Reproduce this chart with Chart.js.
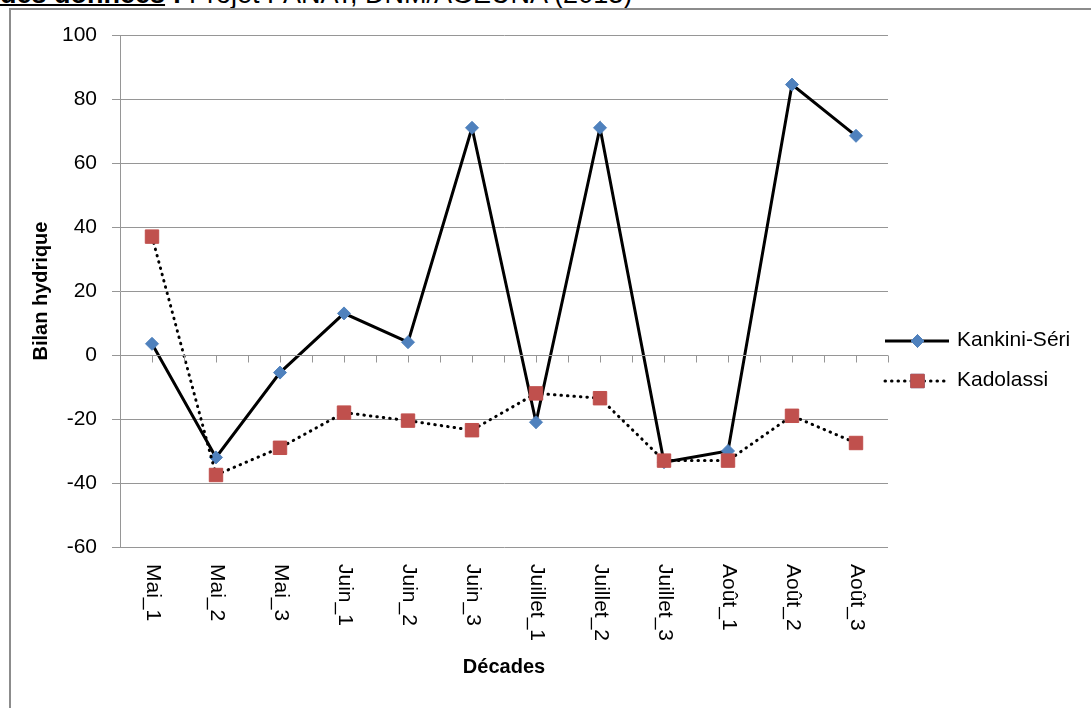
<!DOCTYPE html>
<html lang="fr">
<head>
<meta charset="utf-8">
<title>Bilan hydrique par décade</title>
<script src="https://cdn.jsdelivr.net/npm/chart.js@4/dist/chart.umd.min.js"></script>
<style>
  html, body { margin: 0; padding: 0; background: #fff; }
  body { width: 1091px; height: 708px; position: relative; overflow: hidden; }
  #source {
    position: absolute; left: 0; top: -21px; white-space: nowrap;
    font: 27px/30px "Liberation Sans", Arial, sans-serif; color: #000;
  }
  #source .b { font-weight: bold; text-decoration: underline; text-underline-offset: 1px; }
  #frame {
    position: absolute; left: 9px; top: 8px; width: 1100px; height: 720px;
    border-left: 2px solid #8c8c8c; border-top: 2px solid #8c8c8c;
  }
  #chart { position: absolute; left: 0; top: 0; }
</style>
</head>
<body>
<div id="source"><span class="b">des données</span><b> : </b>Projet PANAT, DNM/AGEUNA (2013)</div>
<div id="frame"></div>
<canvas id="chart" width="1091" height="708"></canvas>
<script>
// Décades (10-day periods), May to August
const categories = ['Mai_1', 'Mai_2', 'Mai_3', 'Juin_1', 'Juin_2', 'Juin_3',
                    'Juillet_1', 'Juillet_2', 'Juillet_3', 'Août_1', 'Août_2', 'Août_3'];

// Water balance per station
const kankiniSeri = [3.5, -32, -5.5, 13, 4, 71, -21, 71, -33.5, -30, 84.5, 68.5];
const kadolassi   = [37, -37.5, -29, -18, -20.5, -23.5, -12, -13.5, -33, -33, -19, -27.5];

// Value axis
const yMin = -60;
const yMax = 100;
const yStep = 20;

const FONT = '"Liberation Sans", Arial, sans-serif';
const GRID = '#969696';

// Category axis drawn along the zero line, labels at the bottom reading downwards,
// plus the line+marker legend on the right.
const decorations = {
  id: 'decorations',
  afterDatasetsDraw(chart) {
    const ctx = chart.ctx;
    const x = chart.scales.x;
    const y = chart.scales.y;
    const area = chart.chartArea;
    const y0 = Math.round(y.getPixelForValue(0)) + 0.5;

    ctx.save();
    // zero axis line with tick marks every half decade
    ctx.strokeStyle = GRID;
    ctx.lineWidth = 1;
    ctx.beginPath();
    ctx.moveTo(area.left, y0);
    ctx.lineTo(area.right, y0);
    for (let i = 0; i <= categories.length * 2; i++) {
      const px = Math.round(x.getPixelForValue(i / 2 - 0.5)) + 0.5;
      ctx.moveTo(px, y0);
      ctx.lineTo(px, y0 + 7);
    }
    ctx.stroke();

    // category labels, rotated to read top to bottom
    ctx.fillStyle = '#000';
    ctx.font = '21px ' + FONT;
    ctx.textAlign = 'left';
    ctx.textBaseline = 'middle';
    categories.forEach((lab, i) => {
      const px = x.getPixelForValue(i);
      ctx.save();
      ctx.translate(px + 1, area.bottom + 17);
      ctx.rotate(Math.PI / 2);
      ctx.fillText(lab, 0, 0);
      ctx.restore();
    });

    // legend
    const items = [
      { ds: chart.data.datasets[0], cy: 341 },
      { ds: chart.data.datasets[1], cy: 381 }
    ];
    const lx0 = 885, lx1 = 949, mx = 917.5, tx = 957;
    items.forEach(({ ds, cy }) => {
      ctx.save();
      ctx.strokeStyle = ds.borderColor;
      ctx.lineWidth = ds.borderWidth;
      ctx.lineCap = ds.borderCapStyle || 'butt';
      ctx.setLineDash(ds.borderDash || []);
      ctx.beginPath();
      ctx.moveTo(lx0, cy);
      ctx.lineTo(lx1, cy);
      ctx.stroke();
      ctx.restore();
      Chart.helpers.drawPoint(ctx, {
        pointStyle: ds.pointStyle,
        radius: ds.pointRadius,
        borderWidth: ds.pointBorderWidth,
        rotation: 0
      }, mx, cy);
      ctx.fillStyle = ds.pointBackgroundColor;
      ctx.strokeStyle = ds.pointBorderColor;
      ctx.lineWidth = ds.pointBorderWidth;
      ctx.fill();
      ctx.stroke();
      ctx.fillStyle = '#000';
      ctx.font = '21px ' + FONT;
      ctx.textAlign = 'left';
      ctx.textBaseline = 'middle';
      ctx.fillText(ds.label, tx, cy - 1);
    });
    ctx.restore();
  }
};

new Chart(document.getElementById('chart'), {
  type: 'line',
  data: {
    labels: categories,
    datasets: [
      {
        label: 'Kankini-Séri',
        data: kankiniSeri,
        borderColor: '#000',
        borderWidth: 3,
        pointStyle: 'rectRot',
        pointRadius: 6.5,
        pointBackgroundColor: '#4F81BD',
        pointBorderColor: '#4F81BD',
        pointBorderWidth: 1,
        tension: 0,
        order: 1
      },
      {
        label: 'Kadolassi',
        data: kadolassi,
        borderColor: '#000',
        borderWidth: 3,
        borderDash: [0.5, 6],
        borderCapStyle: 'round',
        pointStyle: 'rect',
        pointRadius: 9.5,
        pointBackgroundColor: '#C0504D',
        pointBorderColor: '#C0504D',
        pointBorderWidth: 1,
        tension: 0,
        order: 0
      }
    ]
  },
  options: {
    responsive: false,
    animation: false,
    events: [],
    layout: { padding: { top: 35, right: 203, left: 0, bottom: 0 } },
    plugins: {
      legend: { display: false },
      tooltip: { enabled: false }
    },
    scales: {
      x: {
        type: 'category',
        offset: true,
        grid: { display: false },
        border: { display: false },
        ticks: { display: false },
        title: {
          display: true,
          text: 'Décades',
          color: '#000',
          font: { family: FONT, size: 20, weight: 'bold' },
          padding: { top: 0, bottom: 29 }
        },
        afterFit(scale) { scale.height = 161; }
      },
      y: {
        min: yMin,
        max: yMax,
        ticks: {
          stepSize: yStep,
          color: '#000',
          font: { family: FONT, size: 21 },
          padding: 15
        },
        grid: { color: GRID, lineWidth: 1, drawTicks: true, tickLength: 8 },
        border: { display: true, color: GRID, width: 1 },
        title: {
          display: true,
          text: 'Bilan hydrique',
          color: '#000',
          font: { family: FONT, size: 20, weight: 'bold' },
          padding: { top: 29, bottom: 0 }
        },
        afterFit(scale) { scale.width = 120; }
      }
    }
  },
  plugins: [decorations]
});
</script>
</body>
</html>
